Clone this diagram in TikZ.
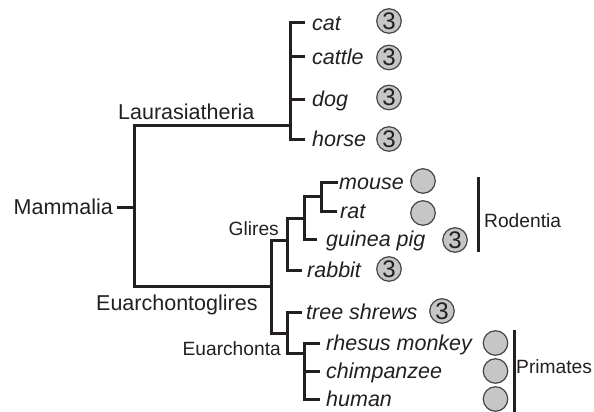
\documentclass[tikz,border=0pt]{standalone}
\usepackage{fontspec}
\setmainfont{Liberation Sans}
\usepackage{xcolor}
\usepackage{tikz}
\usetikzlibrary{positioning}
\definecolor{treeline}{RGB}{35,31,32}
\definecolor{badgefill}{RGB}{198,198,198}
\definecolor{badgeline}{RGB}{70,70,70}
\tikzset{
  branch/.style={line width=3pt,draw=treeline},
  clade/.style={inner sep=0pt,text=treeline,font=\fontsize{21.5}{24}\selectfont},
  subclade/.style={inner sep=0pt,text=treeline,font=\fontsize{19.2}{22}\selectfont},
  leaf/.style={inner sep=0pt,anchor=west,text=treeline,text height=17pt,text depth=1.6pt,font=\fontsize{21.5}{24}\selectfont\itshape},
  badge/.style={circle,draw=badgeline,fill=badgefill,line width=1.2pt,minimum size=24.5pt,inner sep=0pt,text=treeline,font=\fontsize{24}{24}\selectfont}
}
\begin{document}
\begin{tikzpicture}[x=1pt,y=-1pt]
\useasboundingbox (0,0) rectangle (594,412);
\coordinate (lau) at (290,125);
\coordinate (mam) at (134,207);
\coordinate (eua) at (271,286);
\coordinate (gli) at (287,240);
\coordinate (rod) at (304,218);
\coordinate (mur) at (321,196);
\coordinate (euar) at (287,333);
\coordinate (pri) at (304,353);
\foreach \n/\y/\e/\x/\t in {cat/23/305/312/cat,cattle/57/305/312/cattle,dog/99/305/312/dog,horse/139/305/312/horse,
  mouse/182/338/339/mouse,rat/211/337/340/rat,gpig/239/317/326/guinea pig,rabbit/270/302/307/rabbit,
  shrew/312/302/306/tree shrews,rhesus/343/320/326/rhesus monkey,chimp/371/320/326/chimpanzee,human/399/320/326/human}{
  \coordinate (\n-e) at (\e,\y);
  \node[leaf] (\n) at (\x,\y) {\t};
}
\foreach \n/\x/\y in {cat/389/21,cattle/389/57.5,dog/389/97.5,horse/389/139,gpig/455/240,rabbit/389/269,shrew/442/311}
  \node[badge] (\n-c) at (\x,\y) {3};
\foreach \n/\x/\y in {mouse/423/181,rat/423/213,rhesus/495.5/343,chimp/495.5/371,human/495.5/399}
  \node[badge] (\n-c) at (\x,\y) {};
\draw[branch] (cat-e) -| (lau) |- (horse-e);
\draw[branch] (lau |- cattle-e) -- (cattle-e);
\draw[branch] (lau |- dog-e) -- (dog-e);
\draw[branch] (lau) -| (mam) |- (eua);
\draw[branch] (gli) -| (eua) |- (euar);
\draw[branch] (rod) -| (gli) |- (rabbit-e);
\draw[branch] (mur) -| (rod) |- (gpig-e);
\draw[branch] (mouse-e) -| (mur) |- (rat-e);
\draw[branch] (shrew-e) -| (euar) |- (pri);
\draw[branch] (rhesus-e) -| (pri) |- (human-e);
\draw[branch] (pri |- chimp-e) -- (chimp-e);
\node[clade,anchor=east,inner xsep=4pt] (mamlbl) at (117,207) {Mammalia};
\draw[branch] (mamlbl.east) -- (mam);
\node[clade,anchor=base west] (laulbl) at (118,119) {Laurasiatheria};
\node[clade,anchor=base west] (eualbl) at (96,310.5) {Euarchontoglires};
\node[subclade,anchor=base east] (glilbl) at (279,235) {Glires};
\node[subclade,anchor=base east] (euarlbl) at (281,355) {Euarchonta};
\coordinate (rodtop) at (478,177);
\coordinate (rodbot) at (478,252);
\draw[branch] (rodtop) -- (rodbot);
\node[subclade,anchor=base west] (rodlbl) at (484,227) {Rodentia};
\coordinate (pritop) at (514,330);
\coordinate (pribot) at (514,416);
\draw[branch] (pritop) -- (pribot);
\node[subclade,anchor=base west] (prilbl) at (516,373) {Primates};
\end{tikzpicture}
\end{document}
